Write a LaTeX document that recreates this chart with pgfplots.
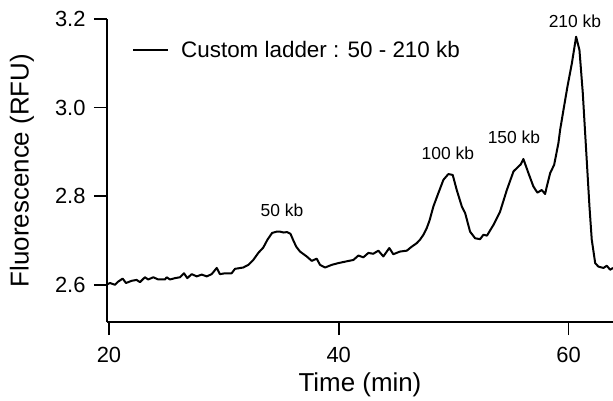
\documentclass[border=0pt]{standalone}
\usepackage{fontspec}
\setmainfont{Liberation Sans}
\usepackage{pgfplots}
\pgfplotsset{compat=1.18}
\begin{document}
\begin{tikzpicture}
\useasboundingbox (0,0) rectangle (613bp,401bp);
\begin{axis}[
  at={(107bp,79bp)}, anchor=south west,
  width=506bp, height=303bp, scale only axis,
  xmin=19.83, xmax=63.87, ymin=2.516, ymax=3.2,
  axis lines=left,
  axis line style={-, line width=1.8bp},
  tick align=outside, major tick length=13bp,
  xtick style={black, line width=1.8bp},
  ytick style={black, line width=1.8bp},
  xtick={20,40,60}, ytick={2.6,2.8,3.0,3.2},
  minor tick num=0,
  clip mode=individual,
  /pgf/number format/assume math mode=true,
  yticklabel style={/pgf/number format/fixed, /pgf/number format/fixed zerofill, /pgf/number format/precision=1, xshift=-5bp},
  xticklabel style={yshift=-9bp},
  ticklabel style={font=\fontsize{22}{26}\selectfont},
  every axis y label/.style={at={(rel axis cs:-0.168,0.5)}, rotate=90, anchor=center, font=\fontsize{26}{30}\selectfont},
  every axis x label/.style={at={(rel axis cs:0.5,0)}, anchor=center, yshift=-63bp, font=\fontsize{26}{30}\selectfont},
  xlabel={Time (min)}, ylabel={Fluorescence (RFU)},
  legend image code/.code={\draw[#1] (0bp,0bp) -- (35bp,0bp); \path (47bp,0bp);},
  legend style={draw=none, fill=none, at={(rel axis cs:0.0494,0.8977)}, anchor=west, inner sep=0pt,
    font=\fontsize{22.5}{26}\selectfont, nodes={inner sep=0pt}},
]
\addplot[black, line width=2bp, line join=round] table {
x y
19.85 2.601
20.09 2.604
20.52 2.600
20.80 2.607
21.19 2.614
21.48 2.604
21.98 2.609
22.41 2.611
22.70 2.606
23.13 2.617
23.42 2.612
23.86 2.617
24.29 2.612
24.88 2.612
25.02 2.617
25.31 2.612
25.75 2.615
26.18 2.617
26.53 2.626
26.82 2.615
27.20 2.624
27.64 2.619
28.07 2.623
28.51 2.619
28.94 2.624
29.38 2.638
29.66 2.624
30.10 2.626
30.68 2.626
30.97 2.636
31.69 2.639
32.13 2.645
32.56 2.656
33.00 2.672
33.43 2.684
33.80 2.702
34.20 2.717
34.60 2.720
34.90 2.720
35.20 2.718
35.50 2.719
35.80 2.715
36.05 2.700
36.30 2.686
36.63 2.675
37.21 2.664
37.65 2.654
38.08 2.659
38.37 2.645
38.81 2.639
39.39 2.645
39.97 2.649
40.70 2.653
41.27 2.656
41.71 2.666
42.14 2.662
42.58 2.672
43.00 2.670
43.45 2.677
43.88 2.664
44.40 2.683
44.75 2.669
45.33 2.675
45.92 2.677
46.35 2.686
46.79 2.694
47.08 2.702
47.37 2.713
47.66 2.728
47.90 2.745
48.24 2.777
48.67 2.807
49.11 2.837
49.54 2.850
49.92 2.848
50.27 2.814
50.71 2.777
51.00 2.762
51.43 2.720
51.87 2.705
52.30 2.703
52.59 2.713
52.90 2.711
53.46 2.735
54.04 2.765
54.63 2.814
55.21 2.856
55.64 2.867
55.85 2.872
56.07 2.884
56.51 2.852
56.94 2.822
57.29 2.808
57.67 2.814
57.96 2.805
58.11 2.822
58.40 2.852
58.75 2.871
59.12 2.920
59.27 2.950
59.56 2.995
59.91 3.048
60.29 3.100
60.66 3.160
60.95 3.130
61.24 3.033
61.53 2.905
61.82 2.777
62.02 2.702
62.32 2.649
62.60 2.641
63.04 2.638
63.33 2.643
63.62 2.634
63.87 2.638
};
\addlegendentry{Custom ladder : 50 - 210 kb}
\node[font=\fontsize{17.5}{20}\selectfont] at (axis cs:35.06,2.769) {50 kb};
\node[font=\fontsize{17.5}{20}\selectfont] at (axis cs:49.50,2.898) {100 kb};
\node[font=\fontsize{17.5}{20}\selectfont] at (axis cs:55.25,2.934) {150 kb};
\node[font=\fontsize{17.5}{20}\selectfont] at (axis cs:60.56,3.194) {210 kb};
\end{axis}
\end{tikzpicture}
\end{document}
